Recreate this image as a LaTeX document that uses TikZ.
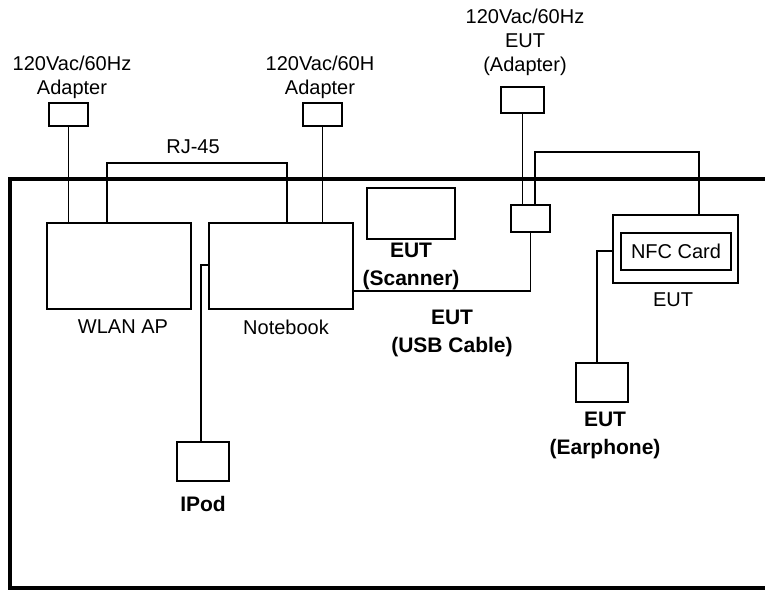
\documentclass[tikz,border=0pt]{standalone}
\usepackage{fontspec}
\setmainfont{Liberation Sans}
\usetikzlibrary{positioning}

\begin{document}
\begin{tikzpicture}[x=1pt, y=-1pt,
 box/.style 2 args={draw, line width=1.8pt, inner sep=0pt, minimum width=#1pt, minimum height=#2pt},
 lbl/.style={align=center, inner sep=0pt, anchor=north, font=\fontsize{20}{24}\selectfont},
 blbl/.style={align=center, inner sep=0pt, anchor=north, font=\fontsize{21}{28}\selectfont\bfseries},
 wire/.style={line width=1.5pt},
 room/.style={line width=3.8pt}
]
\useasboundingbox (0,0) rectangle (765,590);

% test table
\draw[room] (775,179) -- (10,179) -- (10,588) -- (775,588);

\node[box={144}{86}] (wlan) at (119,266) {};
\node[box={144}{86}] (nb) at (281,266) {};
\node[box={88}{51}] (scan) at (411,213.5) {};
\node[box={39}{27}] (hub) at (530.5,218.5) {};
\node[box={125}{68}] (nfc) at (675.5,249) {};
\node[box={110}{37}, font=\fontsize{20}{24}\selectfont] (card) at (676,251.5) {NFC Card};
\node[box={52}{39}] (ipod) at (203,461.5) {};
\node[box={52}{39}] (ear) at (602,382.5) {};
\node[box={39}{23}] (adL) at (68.5,114.5) {};
\node[box={39}{23}] (adM) at (322.5,114.5) {};
\node[box={43}{26}] (adE) at (522.5,100) {};

\node[lbl] (adLtxt) at (72,56) {120Vac/60Hz\\Adapter};
\node[lbl] (adMtxt) at (320,56) {120Vac/60H\\Adapter};
\node[lbl] (adEtxt) at (525,9) {120Vac/60Hz\\EUT\\(Adapter)};
\node[lbl] (rjtxt) at (193,140) {RJ-45};
\node[lbl] (wlantxt) at (123,320) {WLAN AP};
\node[lbl] (nbtxt) at (286,320) {Notebook};
\node[lbl] (nfctxt) at (673,293) {EUT};
\node[blbl] (scantxt) at (411,243) {EUT\\(Scanner)};
\node[blbl] (usbtxt) at (452,310) {EUT\\(USB Cable)};
\node[blbl] (eartxt) at (605,412) {EUT\\(Earphone)};
\node[blbl] (ipodtxt) at (203,496) {IPod};

% cables
\coordinate (rjL) at (107,163);
\coordinate (rjR) at (287,163);
\coordinate (nfcL) at (535,152);
\coordinate (nfcR) at (699,152);
\coordinate (usb) at (530.5,291);
\coordinate (ipodK) at (201,265);
\coordinate (earK) at (597,251);

\draw[wire] (adL.south) -- (adL.south |- wlan.north);
\draw[wire] (wlan.north -| rjL) -- (rjL) -- (rjR) -- (nb.north -| rjR);
\draw[wire] (adM.south) -- (adM.south |- nb.north);
\draw[wire] (adE.south) -- (adE.south |- hub.north);
\draw[wire] (hub.north -| nfcL) -- (nfcL) -- (nfcR) -- (nfc.north -| nfcR);
\draw[wire] (hub.south) -- (usb) -- (usb -| nb.east);
\draw[wire] (ipodK -| nb.west) -- (ipodK) -- (ipodK |- ipod.north);
\draw[wire] (earK -| nfc.west) -- (earK) -- (earK |- ear.north);
\end{tikzpicture}
\end{document}
